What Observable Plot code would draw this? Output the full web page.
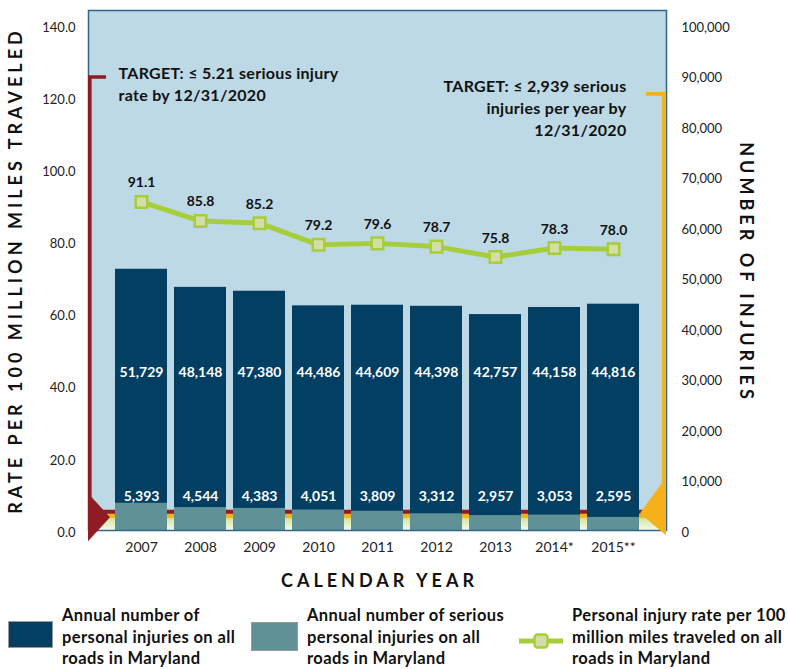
<!DOCTYPE html>
<html><head><meta charset="utf-8">
<script src="https://cdn.jsdelivr.net/npm/d3@7"></script>
<script src="https://cdn.jsdelivr.net/npm/@observablehq/plot@0.6"></script>
<style>
body{margin:0;background:#fff;font-family:Lato,sans-serif;}
#wrap{position:relative;width:788px;height:669px;overflow:hidden;}
#wrap svg{position:absolute;left:0;top:0;}
.leg{position:absolute;font-weight:bold;font-size:16.5px;letter-spacing:0.4px;line-height:21.5px;color:#111;white-space:nowrap;}
.sw{position:absolute;box-sizing:border-box;border:1px solid #9a9a9a;}
</style></head><body><div id="wrap"></div>
<script>
const years = ["2007","2008","2009","2010","2011","2012","2013","2014*","2015**"];
const rate = [91.1, 85.8, 85.2, 79.2, 79.6, 78.7, 75.8, 78.3, 78.0];
const injuries = [51729, 48148, 47380, 44486, 44609, 44398, 42757, 44158, 44816];
const serious = [5393, 4544, 4383, 4051, 3809, 3312, 2957, 3053, 2595];
const rateTicks = [0, 20, 40, 60, 80, 100, 120, 140];
const injuryTicks = [0, 10000, 20000, 30000, 40000, 50000, 60000, 70000, 80000, 90000, 100000];
const rateTarget = 5.21;
const seriousTarget = 2939;
const leftTitle = "RATE PER 100 MILLION MILES TRAVELED";
const rightTitle = "NUMBER OF INJURIES";
const xTitle = "CALENDAR YEAR";
const leftNote = "TARGET: ≤ 5.21 serious injury\nrate by 12/31/2020";
const rightNote = "TARGET: ≤ 2,939 serious\ninjuries per year by\n12/31/2020";
const legendLabels = [
  "Annual number of<br>personal injuries on all<br>roads in Maryland",
  "Annual number of serious<br>personal injuries on all<br>roads in Maryland",
  "Personal injury rate per 100<br>million miles traveled on all<br>roads in Maryland"
];

const C = {bg:"#bdd9e5", navy:"#023f63", teal:"#5f9197", green:"#a8cd3a", greenFill:"#d3dea6", red:"#8e1c22", orange:"#f6b01a", frame:"#2d6688"};
const k = 140 / 100000; // right axis (injuries) aligned to left axis (rate)
const W = 788, H = 600, mL = 88, mR = 122, mT = 10, mB = 70;
const yTop = 144.16;
const fmt = d3.format(",");
const rows = years.map((y, i) => ({year: y, rate: rate[i], inj: injuries[i], ser: serious[i]}));

const plot = Plot.plot({
  width: W, height: H, marginLeft: mL, marginRight: mR, marginTop: mT, marginBottom: mB,
  style: {fontFamily: "Lato, sans-serif", fontSize: "13px", color: "#222", background: "transparent", overflow: "visible"},
  x: {type: "band", domain: years, paddingInner: 0.12, paddingOuter: 0.44, axis: null},
  y: {domain: [0, yTop], axis: null},
  marks: [
    Plot.frame({fill: C.bg}),
    Plot.rect([0], {y1: 0, y2: 4.6, fill: "url(#glow)"}),
    Plot.ruleY([seriousTarget * k], {stroke: C.orange, strokeWidth: 4}),
    Plot.ruleY([rateTarget], {stroke: C.red, strokeWidth: 4}),
    Plot.barY(rows, {x: "year", y: d => d.inj * k, fill: C.navy}),
    Plot.barY(rows, {x: "year", y: d => d.ser * k, fill: C.teal}),
    Plot.text(rows, {x: "year", y: () => 31300 * k, text: d => fmt(d.inj), fill: "white", fontWeight: "bold", fontSize: 14}),
    Plot.text(rows, {x: "year", y: () => 6750 * k, text: d => fmt(d.ser), fill: "white", fontWeight: "bold", fontSize: 14}),
    Plot.line(rows, {x: "year", y: "rate", stroke: C.green, strokeWidth: 5}),
    Plot.dot(rows, {x: "year", y: "rate", symbol: "square", r: 6.5, fill: C.greenFill, stroke: C.green, strokeWidth: 2.5}),
    Plot.text(rows, {x: "year", y: "rate", text: d => d.rate.toFixed(1), dy: -19, fontWeight: "bold", fontSize: 14, fill: "#111"}),
    Plot.frame({stroke: C.frame, strokeWidth: 1.5}),
    Plot.axisY({ticks: rateTicks, anchor: "left", tickSize: 0, tickPadding: 13, tickFormat: d3.format(".1f"), fontSize: 13, label: null, dy: 2}),
    Plot.axisY({ticks: injuryTicks.map(v => v * k), anchor: "right", tickSize: 0, tickPadding: 15, tickFormat: v => fmt(Math.round(v / k)), fontSize: 13, label: null, dy: 2}),
    Plot.axisX({tickSize: 0, tickPadding: 12, fontSize: 14, label: null}),
    Plot.text([leftTitle], {text: d => d, frameAnchor: "left", textAnchor: "middle", lineAnchor: "middle", dx: -72, rotate: -90, fontWeight: "bold", fontSize: 18, fill: "#111"}),
    Plot.text([rightTitle], {text: d => d, frameAnchor: "right", textAnchor: "middle", lineAnchor: "middle", dx: 79, dy: 2, rotate: 90, fontWeight: "bold", fontSize: 18, fill: "#111"}),
    Plot.text([xTitle], {text: d => d, frameAnchor: "bottom", dy: 51, dx: 2, lineAnchor: "middle", fontWeight: "bold", fontSize: 18, fill: "#111"}),
    Plot.text([leftNote], {text: d => d, frameAnchor: "top-left", dx: 30, dy: 53, lineAnchor: "top", textAnchor: "start", fontWeight: "bold", fontSize: 16, lineHeight: 1.38, fill: "#111"}),
    Plot.text([rightNote], {text: d => d, frameAnchor: "top-right", dx: -40, dy: 66, lineAnchor: "top", textAnchor: "end", fontWeight: "bold", fontSize: 16, lineHeight: 1.38, fill: "#111"})
  ]
});

const svg = d3.select(plot);
// letter-spaced titles and slightly widened notes
svg.selectAll("text").filter(function () { return [leftTitle, rightTitle, xTitle].includes(this.textContent); })
  .attr("letter-spacing", "4px");
svg.selectAll("text").filter(function () { return this.textContent.startsWith("TARGET"); })
  .attr("letter-spacing", "0.3px");

// decorations positioned through the plot's y scale
const grad = svg.append("defs").append("linearGradient").attr("id", "glow").attr("x1", 0).attr("y1", 0).attr("x2", 0).attr("y2", 1);
grad.append("stop").attr("offset", "0").attr("stop-color", "#b2d453");
grad.append("stop").attr("offset", "0.45").attr("stop-color", "#dcebb0");
grad.append("stop").attr("offset", "1").attr("stop-color", "#f4f8ea");
const ys = plot.scale("y");
const yPx = v => ys.apply(v);
const left = mL, right = W - mR;
const yr = yPx(rateTarget), yo = yPx(seriousTarget * k);
const deco = svg.append("g");
deco.append("path").attr("d", `M${left + 18},${yPx(125.6)} H${left + 1.8} V${yr}`)
  .attr("fill", "none").attr("stroke", C.red).attr("stroke-width", 3.6);
deco.append("path").attr("d", `M${left},${yr - 18} L${left + 22},${yr + 6} L${left},${yr + 30} Z`).attr("fill", C.red);
deco.append("path").attr("d", `M${right - 20},${yPx(120.9)} H${right - 2.2} V${yo}`)
  .attr("fill", "none").attr("stroke", C.orange).attr("stroke-width", 3.8);
deco.append("path").attr("d", `M${right},${yo - 38} L${right - 26},${yo - 2} L${right},${yo + 20} Z`).attr("fill", C.orange);

const wrap = document.getElementById("wrap");
wrap.appendChild(plot);

// legend
const add = (html) => { wrap.insertAdjacentHTML("beforeend", html); };
add(`<div class="sw" style="left:8px;top:621px;width:45px;height:27px;background:${C.navy}"></div>`);
add(`<div class="leg" style="left:62px;top:605px">${legendLabels[0]}</div>`);
add(`<div class="sw" style="left:251px;top:622px;width:47px;height:29px;background:${C.teal}"></div>`);
add(`<div class="leg" style="left:307px;top:605px">${legendLabels[1]}</div>`);
add(`<svg width="50" height="20" style="left:516px;top:631px"><line x1="3" y1="10" x2="47" y2="10" stroke="${C.green}" stroke-width="5"/><rect x="18.5" y="3.5" width="13" height="13" rx="3" fill="${C.greenFill}" stroke="${C.green}" stroke-width="2.5"/></svg>`);
add(`<div class="leg" style="left:572px;top:605px">${legendLabels[2]}</div>`);
</script></body></html>
